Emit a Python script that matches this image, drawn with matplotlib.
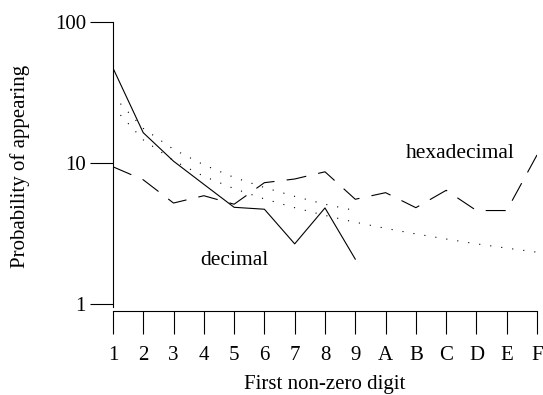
import matplotlib
matplotlib.use("Agg")
import matplotlib.pyplot as plt

digits = ["1", "2", "3", "4", "5", "6", "7", "8", "9", "A", "B", "C", "D", "E", "F"]

# observed first-digit frequencies (percent)
decimal_obs = [47.2, 16.4, 10.3, 7.06, 4.85, 4.7, 2.67, 4.8, 2.08]
hex_obs = [9.4, 7.6, 5.2, 5.86, 5.1, 7.25, 7.7, 8.66, 5.53, 6.16, 4.82, 6.4, 4.6, 4.6, 11.4]

# expected (Benford) curves
decimal_exp = [30.1, 17.6, 12.5, 9.7, 7.9, 6.7, 5.8, 5.1, 4.6]
hex_exp = [25.0, 14.6, 10.4, 8.05, 6.58, 5.56, 4.82, 4.25, 3.8, 3.44, 3.14, 2.89, 2.67, 2.49, 2.33]

plt.rcParams['font.family'] = ['Liberation Serif', 'DejaVu Serif']

fig = plt.figure(figsize=(5.43, 3.95), dpi=100)
ax = fig.add_axes([0.208, 0.2127, 0.781, 0.7316])

xd = range(len(decimal_obs))
xh = range(len(hex_obs))
lw = 0.8
ax.plot(xd, decimal_obs, color="black", lw=lw)
ax.plot(xh, hex_obs, color="black", lw=lw, dashes=(18, 11))
ax.plot(xd, decimal_exp, color="black", lw=lw, dashes=(1, 9))
ax.plot(xh, hex_exp, color="black", lw=lw, dashes=(1, 9))

ax.set_yscale("log")
ax.set_ylim(0.892, 100)
ax.set_xlim(0, len(digits) - 1)
ax.set_yticks([1, 10, 100])
ax.set_yticklabels(["1", "10", "100"])
ax.minorticks_off()
ax.set_xticks(list(xh))
ax.set_xticklabels(digits)

for s in ["top", "right"]:
    ax.spines[s].set_visible(False)
for s in ["left", "bottom"]:
    ax.spines[s].set_linewidth(lw)
ax.spines["left"].set_bounds(0.95, 100)

ax.tick_params(axis="y", direction="out", length=16.5, width=lw, pad=3, labelsize=15)
ax.tick_params(axis="x", direction="out", length=16.5, width=lw, pad=9, labelsize=15)

ax.text(11.45, 11.6, "hexadecimal", fontsize=15.5, ha="center", va="center")
ax.text(4.0, 2.02, "decimal", fontsize=15.5, ha="center", va="center")

ax.set_xlabel("First non-zero digit", fontsize=15, labelpad=7)
ax.set_ylabel("Probability of appearing", fontsize=15, labelpad=18)

fig.savefig("out.png", dpi=100)
